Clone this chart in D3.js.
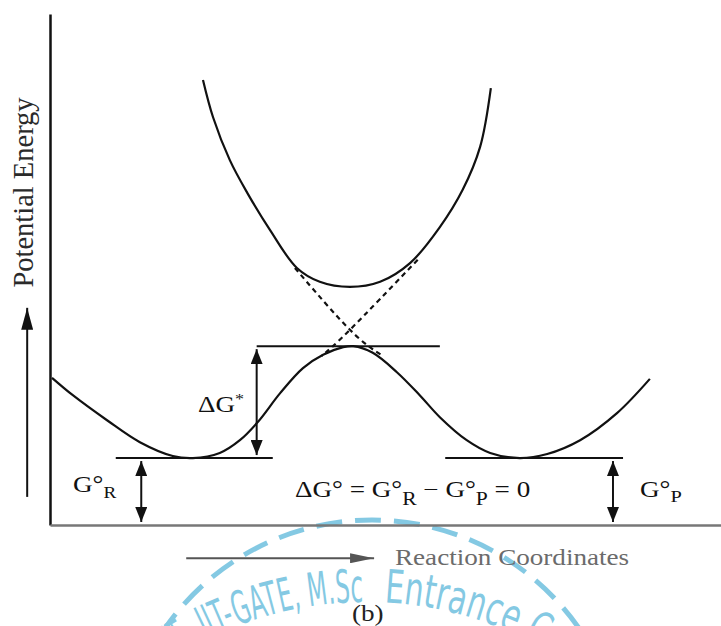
<!DOCTYPE html>
<html>
<head>
<meta charset="utf-8">
<script src="https://cdn.jsdelivr.net/npm/d3@7"></script>
<style>
  body { margin: 0; background: #fff; }
  svg { display: block; }
</style>
</head>
<body>
<div id="chart"></div>
<script>
// reaction coordinate (x) and potential energy (y), both read on a 0-100 scale

// lower (adiabatic) surface: reactant well - barrier - product well
var groundCurve = [
  [0.3, 28.8], [3.4, 25.4], [8.5, 20.5], [13.4, 16.2], [18.3, 13.5], [21.3, 13.1],
  [25.3, 14.1], [28.3, 16.6], [31.0, 20.2], [34.3, 25.8], [37.7, 30.7], [40.7, 33.3],
  [43.7, 34.8], [45.2, 35.0], [48.1, 33.7], [51.7, 29.9], [55.1, 25.4], [58.1, 21.1],
  [62.1, 16.6], [65.6, 14.1], [70.0, 13.1], [74.1, 13.9], [79.0, 16.6], [84.5, 21.9],
  [89.4, 28.6]
];

// upper surface
var excitedCurve = [
  [22.8, 87.1], [24.3, 79.8], [26.8, 71.4], [29.4, 65.0], [32.8, 57.7], [36.8, 50.3],
  [40.2, 47.6], [44.7, 46.6], [49.2, 47.6], [53.7, 51.3], [58.1, 58.3], [61.5, 65.6],
  [64.1, 74.0], [65.7, 85.5]
];

// dashed crossing (diabatic) branches
var productBranch = [[36.5, 50.3], [44.7, 38.2], [49.6, 33.1]];
var reactantBranch = [[54.8, 51.9], [44.7, 38.2], [40.5, 33.1]];

var wellLevel = 13.1;
var barrierLevel = 35.0;

var levelLines = [
  { x0: 9.8, x1: 33.2, y: wellLevel },
  { x0: 30.8, x1: 58.1, y: barrierLevel },
  { x0: 58.9, x1: 85.4, y: wellLevel }
];

var gapArrows = [
  { x: 30.8, y0: wellLevel, y1: barrierLevel },
  { x: 13.6, y0: 0, y1: wellLevel },
  { x: 83.9, y0: 0, y1: wellLevel }
];

var energyArrow = { x: -3.4, y0: 5.5, y1: 42.5 };
var coordArrow = { y: -6.5, x0: 20.3, x1: 48.3 };

var width = 721;
var height = 626;

var x = d3.scaleLinear().domain([0, 100]).range([50, 721]);
var y = d3.scaleLinear().domain([0, 100]).range([525, 14]);

var svg = d3
  .select("#chart")
  .append("svg")
  .attr("width", width)
  .attr("height", height);

var serif = "'Liberation Serif', 'Times New Roman', serif";

// arrow heads
var defs = svg.append("defs");
function head(id, len, half, color) {
  defs
    .append("marker")
    .attr("id", id)
    .attr("viewBox", -len + " " + -half + " " + len + " " + half * 2)
    .attr("refX", 0)
    .attr("refY", 0)
    .attr("markerWidth", len)
    .attr("markerHeight", half * 2)
    .attr("markerUnits", "userSpaceOnUse")
    .attr("orient", "auto-start-reverse")
    .append("path")
    .attr("d", "M" + -len + "," + -half + "L0,0L" + -len + "," + half + "Z")
    .attr("fill", color);
}
head("headBlack", 15, 6, "#111");
head("headLong", 22, 6, "#111");
head("headGray", 24, 5, "#555");

// watermark (stamp in the background)
var stamp = svg.append("g").attr("opacity", 0.62);
stamp
  .append("circle")
  .attr("cx", 372)
  .attr("cy", 772)
  .attr("r", 252)
  .attr("fill", "none")
  .attr("stroke", "#3aa9d2")
  .attr("stroke-width", 5)
  .attr("stroke-dasharray", "26 13");

var arcR = 360, arcCx = 366, arcCy = 962;
defs
  .append("path")
  .attr("id", "stampArc")
  .attr("d", "M" + (arcCx - arcR) + "," + arcCy + " A" + arcR + " " + arcR + " 0 0 1 " + (arcCx + arcR) + "," + arcCy);
var quarter = Math.PI * arcR / 2;
var stampText = stamp
  .append("text")
  .attr("font-family", "'Liberation Sans Narrow', 'DejaVu Sans Condensed', sans-serif")
  .attr("font-size", 46)
  .attr("fill", "#3aa9d2");
stampText
  .append("textPath")
  .attr("href", "#stampArc")
  .attr("startOffset", quarter - 166)
  .attr("textLength", 163)
  .attr("lengthAdjust", "spacingAndGlyphs")
  .text("IIT-GATE, M.Sc");
stampText
  .append("textPath")
  .attr("href", "#stampArc")
  .attr("startOffset", quarter + 18)
  .attr("textLength", 165)
  .attr("lengthAdjust", "spacingAndGlyphs")
  .text("Entrance C");
stampText
  .append("textPath")
  .attr("href", "#stampArc")
  .attr("startOffset", quarter - 166 - 110)
  .attr("textLength", 100)
  .attr("lengthAdjust", "spacingAndGlyphs")
  .text("CSIR-NET,");

// axes, drawn as bare lines
svg
  .append("g")
  .attr("transform", "translate(" + x(0) + ",0)")
  .call(d3.axisLeft(y).tickValues([]).tickSizeOuter(0))
  .select(".domain")
  .attr("stroke", "#111")
  .attr("stroke-width", 2.5);

svg
  .append("g")
  .attr("transform", "translate(0," + y(0) + ")")
  .call(d3.axisBottom(x).tickValues([]).tickSizeOuter(0))
  .select(".domain")
  .attr("stroke", "#777")
  .attr("stroke-width", 2.5);

// curves
var line = d3
  .line()
  .x(function(d) { return x(d[0]); })
  .y(function(d) { return y(d[1]); })
  .curve(d3.curveCatmullRom.alpha(0.5));

svg
  .selectAll(".surface")
  .data([groundCurve, excitedCurve])
  .enter()
  .append("path")
  .attr("class", "surface")
  .attr("d", line)
  .attr("fill", "none")
  .attr("stroke", "#111")
  .attr("stroke-width", 2.2);

var dashLine = d3
  .line()
  .x(function(d) { return x(d[0]); })
  .y(function(d) { return y(d[1]); })
  .curve(d3.curveNatural);

svg
  .selectAll(".branch")
  .data([productBranch, reactantBranch])
  .enter()
  .append("path")
  .attr("class", "branch")
  .attr("d", dashLine)
  .attr("fill", "none")
  .attr("stroke", "#111")
  .attr("stroke-width", 2.2)
  .attr("stroke-dasharray", "5 4");

// energy levels
svg
  .selectAll(".level")
  .data(levelLines)
  .enter()
  .append("line")
  .attr("class", "level")
  .attr("x1", function(d) { return x(d.x0); })
  .attr("x2", function(d) { return x(d.x1); })
  .attr("y1", function(d) { return y(d.y); })
  .attr("y2", function(d) { return y(d.y); })
  .attr("stroke", "#111")
  .attr("stroke-width", 2);

// double-headed gap arrows
svg
  .selectAll(".gap")
  .data(gapArrows)
  .enter()
  .append("line")
  .attr("class", "gap")
  .attr("x1", function(d) { return x(d.x); })
  .attr("x2", function(d) { return x(d.x); })
  .attr("y1", function(d) { return y(d.y0) - 3; })
  .attr("y2", function(d) { return y(d.y1) + 3; })
  .attr("stroke", "#111")
  .attr("stroke-width", 2)
  .attr("marker-start", "url(#headBlack)")
  .attr("marker-end", "url(#headBlack)");

// axis direction arrows
svg
  .append("line")
  .attr("x1", x(energyArrow.x))
  .attr("x2", x(energyArrow.x))
  .attr("y1", y(energyArrow.y0))
  .attr("y2", y(energyArrow.y1))
  .attr("stroke", "#111")
  .attr("stroke-width", 2)
  .attr("marker-end", "url(#headLong)");

svg
  .append("line")
  .attr("x1", x(coordArrow.x0))
  .attr("x2", x(coordArrow.x1))
  .attr("y1", y(coordArrow.y))
  .attr("y2", y(coordArrow.y))
  .attr("stroke", "#555")
  .attr("stroke-width", 2)
  .attr("marker-end", "url(#headGray)");

// labels
function label(px, py, size, color) {
  return svg
    .append("text")
    .attr("transform", "translate(" + px + "," + py + ") scale(1.2,1)")
    .attr("font-family", serif)
    .attr("font-size", size)
    .attr("fill", color || "#111");
}

svg
  .append("text")
  .attr("transform", "translate(33,192.5) rotate(-90)")
  .attr("text-anchor", "middle")
  .attr("font-family", serif)
  .attr("font-size", 28.5)
  .attr("fill", "#2a2a2a")
  .text("Potential Energy");

var dgStar = label(198, 412, 22.6);
dgStar.append("tspan").text("\u0394G");
dgStar.append("tspan").attr("dy", -8).attr("font-size", 15).text("*");

var gr = label(73, 492, 22.6);
gr.append("tspan").text("G\u00b0");
gr.append("tspan").attr("dy", 6).attr("font-size", 16).text("R");

var eq = label(295, 497, 22.6);
eq.append("tspan").text("\u0394G\u00b0 = G\u00b0");
eq.append("tspan").attr("dy", 8).attr("font-size", 18).text("R");
eq.append("tspan").attr("dy", -8).text(" \u2212 G\u00b0");
eq.append("tspan").attr("dy", 8).attr("font-size", 18).text("P");
eq.append("tspan").attr("dy", -8).text(" = 0");

var gp = label(640, 497, 22.6);
gp.append("tspan").text("G\u00b0");
gp.append("tspan").attr("dy", 5).attr("font-size", 17).text("P");

label(395, 565, 22.6, "#6b6b6b").text("Reaction Coordinates");
label(352, 621, 22.6, "#222").text("(b)");
</script>
</body>
</html>
